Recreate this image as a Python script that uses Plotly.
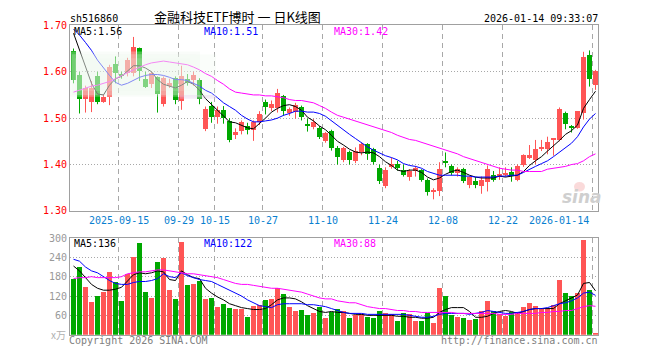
import plotly.graph_objects as go

# ---------------- data ----------------
tick_idx = [8, 18, 24, 32, 42, 52, 62, 72, 87]
tick_txt = ["2025-09-15", "09-29", "10-15", "10-27", "11-10", "11-24", "12-08", "12-22", "2026-01-14"]

open_ = [1.645, 1.592, 1.540, 1.535, 1.590, 1.535, 1.545, 1.617, 1.593, 1.597,
         1.596, 1.650, 1.583, 1.572, 1.587, 1.530, 1.569, 1.585, 1.537, 1.583,
         1.582, 1.582, 1.475, 1.525, 1.502, 1.516, 1.493, 1.464, 1.472, 1.483,
         1.474, 1.492, 1.535, 1.522, 1.522, 1.547, 1.511, 1.512, 1.523, 1.486,
         1.481, 1.479, 1.451, 1.471, 1.436, 1.410, 1.426, 1.407, 1.426, 1.443,
         1.433, 1.391, 1.353, 1.394, 1.400, 1.387, 1.372, 1.386, 1.387, 1.367,
         1.342, 1.342, 1.406, 1.396, 1.382, 1.389, 1.356, 1.363, 1.353, 1.362,
         1.377, 1.374, 1.378, 1.384, 1.367, 1.398, 1.413, 1.410, 1.434, 1.433,
         1.454, 1.453, 1.511, 1.481, 1.479, 1.510, 1.636, 1.571]
high = [1.650, 1.600, 1.570, 1.580, 1.600, 1.550, 1.615, 1.633, 1.600, 1.630,
        1.675, 1.652, 1.600, 1.600, 1.590, 1.590, 1.585, 1.590, 1.613, 1.595,
        1.600, 1.586, 1.525, 1.535, 1.525, 1.526, 1.500, 1.478, 1.495, 1.490,
        1.495, 1.515, 1.540, 1.538, 1.563, 1.550, 1.523, 1.533, 1.527, 1.499,
        1.498, 1.483, 1.470, 1.475, 1.440, 1.438, 1.430, 1.437, 1.447, 1.446,
        1.436, 1.400, 1.394, 1.415, 1.408, 1.400, 1.390, 1.397, 1.390, 1.370,
        1.349, 1.405, 1.426, 1.400, 1.394, 1.393, 1.375, 1.373, 1.374, 1.398,
        1.386, 1.394, 1.394, 1.394, 1.400, 1.422, 1.442, 1.453, 1.453, 1.460,
        1.457, 1.523, 1.514, 1.485, 1.515, 1.643, 1.646, 1.604]
low = [1.575, 1.510, 1.512, 1.513, 1.530, 1.533, 1.528, 1.575, 1.585, 1.590,
       1.590, 1.580, 1.565, 1.565, 1.512, 1.525, 1.565, 1.530, 1.518, 1.570,
       1.570, 1.530, 1.472, 1.490, 1.488, 1.488, 1.448, 1.455, 1.465, 1.465,
       1.451, 1.485, 1.508, 1.515, 1.512, 1.505, 1.505, 1.499, 1.495, 1.471,
       1.476, 1.455, 1.447, 1.430, 1.400, 1.405, 1.400, 1.403, 1.420, 1.410,
       1.400, 1.358, 1.349, 1.391, 1.387, 1.374, 1.365, 1.374, 1.363, 1.333,
       1.325, 1.332, 1.394, 1.377, 1.374, 1.360, 1.349, 1.349, 1.337, 1.342,
       1.363, 1.367, 1.374, 1.363, 1.364, 1.395, 1.412, 1.401, 1.429, 1.422,
       1.419, 1.450, 1.476, 1.469, 1.477, 1.497, 1.568, 1.561]
close = [1.582, 1.540, 1.565, 1.565, 1.535, 1.545, 1.610, 1.597, 1.592, 1.625,
         1.653, 1.600, 1.567, 1.596, 1.551, 1.585, 1.575, 1.539, 1.591, 1.575,
         1.592, 1.540, 1.520, 1.502, 1.517, 1.499, 1.453, 1.469, 1.490, 1.474,
         1.490, 1.509, 1.523, 1.529, 1.554, 1.514, 1.519, 1.528, 1.502, 1.484,
         1.490, 1.458, 1.467, 1.436, 1.415, 1.436, 1.408, 1.428, 1.443, 1.422,
         1.405, 1.363, 1.387, 1.401, 1.391, 1.377, 1.385, 1.392, 1.367, 1.340,
         1.344, 1.389, 1.404, 1.382, 1.389, 1.363, 1.372, 1.356, 1.367, 1.389,
         1.367, 1.379, 1.381, 1.374, 1.396, 1.419, 1.419, 1.433, 1.438, 1.447,
         1.456, 1.519, 1.486, 1.479, 1.514, 1.631, 1.583, 1.601]

ma5 = [1.683, 1.646, 1.613, 1.575, 1.552, 1.550, 1.571, 1.585, 1.590, 1.602,
       1.613, 1.613, 1.608, 1.600, 1.583, 1.573, 1.569, 1.565, 1.571, 1.579,
       1.573, 1.560, 1.542, 1.529, 1.517, 1.504, 1.492, 1.490, 1.485, 1.479,
       1.477, 1.488, 1.500, 1.513, 1.521, 1.527, 1.529, 1.525, 1.517, 1.502,
       1.494, 1.483, 1.475, 1.463, 1.450, 1.442, 1.433, 1.427, 1.425, 1.427,
       1.425, 1.417, 1.406, 1.398, 1.388, 1.385, 1.388, 1.388, 1.383, 1.373,
       1.367, 1.371, 1.379, 1.385, 1.388, 1.383, 1.377, 1.373, 1.371, 1.371,
       1.371, 1.375, 1.373, 1.375, 1.377, 1.385, 1.398, 1.408, 1.417, 1.429,
       1.440, 1.452, 1.465, 1.473, 1.485, 1.521, 1.540, 1.558]
ma10 = [1.692, 1.679, 1.663, 1.646, 1.625, 1.608, 1.592, 1.577, 1.571, 1.575,
        1.581, 1.588, 1.592, 1.594, 1.594, 1.592, 1.588, 1.583, 1.583, 1.581,
        1.575, 1.569, 1.560, 1.554, 1.544, 1.533, 1.525, 1.517, 1.506, 1.498,
        1.492, 1.492, 1.494, 1.496, 1.500, 1.506, 1.510, 1.515, 1.515, 1.513,
        1.513, 1.510, 1.504, 1.494, 1.483, 1.473, 1.465, 1.456, 1.446, 1.438,
        1.431, 1.425, 1.419, 1.415, 1.410, 1.402, 1.398, 1.396, 1.392, 1.385,
        1.381, 1.377, 1.377, 1.377, 1.377, 1.375, 1.375, 1.373, 1.373, 1.373,
        1.373, 1.375, 1.375, 1.377, 1.377, 1.383, 1.390, 1.396, 1.402, 1.408,
        1.417, 1.427, 1.435, 1.446, 1.460, 1.481, 1.498, 1.510]
ma30 = [1.556, 1.560, 1.565, 1.569, 1.571, 1.575, 1.579, 1.585, 1.592, 1.598,
        1.604, 1.610, 1.615, 1.619, 1.621, 1.623, 1.621, 1.619, 1.617, 1.615,
        1.610, 1.604, 1.596, 1.590, 1.581, 1.573, 1.563, 1.556, 1.554, 1.552,
        1.550, 1.550, 1.548, 1.548, 1.546, 1.544, 1.540, 1.538, 1.538, 1.535,
        1.533, 1.527, 1.521, 1.513, 1.506, 1.502, 1.498, 1.494, 1.490, 1.485,
        1.481, 1.477, 1.473, 1.469, 1.463, 1.458, 1.454, 1.452, 1.448, 1.444,
        1.440, 1.435, 1.431, 1.427, 1.423, 1.417, 1.413, 1.408, 1.404, 1.400,
        1.396, 1.392, 1.390, 1.388, 1.388, 1.385, 1.385, 1.385, 1.385, 1.390,
        1.392, 1.394, 1.396, 1.400, 1.402, 1.408, 1.417, 1.423]

volume = [172, 211, 149, 100, 121, 133, 193, 163, 106, 187,
          242, 284, 133, 115, 227, 239, 139, 112, 287, 154,
          157, 166, 112, 115, 85, 94, 82, 79, 79, 54,
          88, 91, 109, 112, 145, 127, 85, 73, 76, 60,
          66, 85, 51, 70, 79, 72, 51, 60, 63, 54,
          51, 72, 66, 63, 42, 66, 63, 42, 42, 66,
          36, 145, 121, 60, 54, 51, 45, 48, 72, 106,
          72, 63, 57, 69, 69, 85, 97, 88, 79, 79,
          91, 169, 130, 121, 130, 293, 139, 6]
vma5 = [213, 198, 177, 156, 144, 138, 138, 141, 147, 165,
        186, 192, 189, 192, 198, 195, 171, 168, 198, 186,
        177, 174, 144, 129, 117, 108, 96, 90, 84, 81,
        78, 78, 81, 93, 108, 114, 114, 111, 102, 90,
        81, 72, 69, 72, 69, 69, 66, 63, 63, 60,
        60, 60, 60, 60, 57, 57, 54, 54, 51, 51,
        54, 69, 78, 84, 84, 84, 72, 54, 54, 57,
        66, 72, 75, 72, 66, 72, 78, 81, 81, 81,
        81, 96, 105, 114, 123, 159, 162, 136]
vma10 = [234, 228, 210, 198, 192, 180, 168, 159, 156, 156,
         162, 165, 165, 168, 174, 189, 180, 177, 192, 183,
         177, 171, 168, 165, 156, 147, 138, 129, 120, 108,
         99, 90, 87, 84, 93, 96, 96, 96, 96, 93,
         93, 90, 87, 81, 75, 69, 66, 66, 66, 63,
         63, 63, 63, 63, 63, 63, 60, 57, 54, 54,
         57, 63, 66, 66, 66, 66, 63, 66, 69, 75,
         72, 69, 66, 66, 69, 72, 78, 81, 81, 84,
         90, 96, 99, 105, 114, 129, 132, 122]
vma30 = [174, 177, 177, 180, 177, 177, 177, 177, 180, 189,
         192, 195, 195, 198, 201, 201, 198, 195, 192, 189,
         189, 186, 183, 180, 177, 171, 165, 159, 156, 156,
         153, 150, 147, 144, 144, 141, 138, 135, 132, 126,
         120, 114, 111, 111, 105, 102, 99, 99, 93, 87,
         84, 81, 81, 78, 75, 75, 72, 72, 69, 69,
         69, 69, 69, 69, 66, 66, 66, 66, 66, 66,
         66, 63, 63, 63, 66, 66, 66, 66, 69, 69,
         72, 72, 75, 75, 81, 87, 90, 88]

price_ticks = [1.30, 1.40, 1.50, 1.60, 1.70]
vol_ticks = [60, 120, 180, 240, 300]

# ---------------- styling ----------------
W, H = 660, 360
X0, X1 = 70, 598
P_TOP, P_BOT = 20, 212
V_TOP, V_BOT = 240, 340
RED = "#ff5555"
GREEN = "#00a800"
FRAME = "#a0a0a0"
GRID = "#a8a8a8"
MONO = "DejaVu Sans Mono"
CJK = "Noto Sans CJK SC"
FS = 10


def px(x):
    return x / W


def py(y):
    return 1 - y / H


n = len(close)
idx = list(range(n))
up = [c >= o for o, c in zip(open_, close)]
off = 1.0 / 12  # pixel-crisp offset of the axis range

fig = go.Figure()

for flag, col in ((True, RED), (False, GREEN)):
    xs = [i for i in idx if up[i] == flag]
    wx, wy = [], []
    for i in xs:
        wx += [i, i, None]
        wy += [low[i], high[i], None]
    fig.add_trace(go.Scatter(x=wx, y=wy, mode="lines", line=dict(color=col, width=1),
                             xaxis="x", yaxis="y", hoverinfo="skip"))
    fig.add_trace(go.Bar(x=xs,
                         y=[max(abs(close[i] - open_[i]), 0.0022) for i in xs],
                         base=[min(open_[i], close[i]) for i in xs],
                         width=5 / 6, marker=dict(color=col, line=dict(width=0)),
                         xaxis="x", yaxis="y", hoverinfo="skip"))
    fig.add_trace(go.Bar(x=xs, y=[volume[i] for i in xs], width=5 / 6,
                         marker=dict(color=col, line=dict(width=0)),
                         xaxis="x2", yaxis="y2", hoverinfo="skip"))

for series, col in ((ma5, "#000000"), (ma10, "#0000ff"), (ma30, "#ff00ff")):
    fig.add_trace(go.Scatter(x=idx, y=series, mode="lines", line=dict(color=col, width=1),
                             xaxis="x", yaxis="y", hoverinfo="skip"))
for series, col in ((vma5, "#000000"), (vma10, "#0000ff"), (vma30, "#ff00ff")):
    fig.add_trace(go.Scatter(x=idx, y=series, mode="lines", line=dict(color=col, width=1),
                             xaxis="x2", yaxis="y2", hoverinfo="skip"))

grid_x = [i - 0.5 for i in tick_idx]
xcommon = dict(range=[-0.5 - off, n - 0.5 - off], domain=[px(X0), px(X1)],
               tickvals=grid_x, showticklabels=False, ticks="",
               showgrid=True, gridcolor=GRID, griddash="5px,4px", gridwidth=1,
               showline=True, mirror=True, linecolor=FRAME, linewidth=1,
               zeroline=False, fixedrange=True)

fig.update_layout(
    width=W, height=H, margin=dict(l=0, r=0, t=0, b=0),
    paper_bgcolor="white", plot_bgcolor="white", showlegend=False,
    barmode="overlay", bargap=0,
    xaxis=dict(anchor="y", **xcommon),
    xaxis2=dict(anchor="y2", **xcommon),
    yaxis=dict(domain=[py(P_BOT), py(P_TOP)], range=[1.30, 1.70],
               tickvals=price_ticks, ticktext=["%.2f" % v for v in price_ticks],
               tickfont=dict(family=MONO, size=FS, color="#ff0000"), ticks="",
               showgrid=True, gridcolor=GRID, griddash="1px,2px",
               showline=True, mirror=True, linecolor=FRAME, linewidth=1,
               zeroline=False, fixedrange=True),
    yaxis2=dict(domain=[py(V_BOT), py(V_TOP)], range=[0, 300],
                tickvals=vol_ticks, ticktext=[str(v) for v in vol_ticks],
                tickfont=dict(family=MONO, size=FS, color="#999999"), ticks="",
                showgrid=True, gridcolor=GRID, griddash="1px,2px",
                showline=True, mirror=True, linecolor=FRAME, linewidth=1,
                zeroline=False, fixedrange=True),
)

# x tick labels
for k, (i, t) in enumerate(zip(tick_idx, tick_txt)):
    last = k == len(tick_idx) - 1
    fig.add_annotation(x=591 / W if last else i - 0.5,
                       xref="paper" if last else "x", yref="paper", y=py(222),
                       text=t, showarrow=False, xanchor="right" if last else "center",
                       yanchor="middle", font=dict(family=MONO, size=FS, color="#0a7fd0"))

# ghost overlay (faded area top-left), built from a few soft layers
for (x0, x1, y0, y1, a) in ((70, 200, 47, 94, 0.30), (72, 196, 50, 92, 0.25),
                            (75, 190, 54, 88, 0.15), (196, 216, 50, 94, 0.25)):
    fig.add_shape(type="rect", xref="paper", yref="paper", x0=px(x0), x1=px(x1), y0=py(y1), y1=py(y0),
                  fillcolor="rgba(236,246,236,%.2f)" % a, line=dict(width=0), layer="above")
fig.add_shape(type="rect", xref="paper", yref="paper", x0=px(180), x1=px(216), y0=py(96), y1=py(92),
              fillcolor="rgba(226,200,236,0.35)", line=dict(width=0), layer="above")

# sina watermark
fig.add_shape(type="circle", xref="paper", yref="paper", x0=px(574), x1=px(585), y0=py(192), y1=py(182),
              fillcolor="rgba(240,150,150,0.35)", line=dict(width=0))
fig.add_annotation(x=px(582), y=py(198), xref="paper", yref="paper", text="sina", showarrow=False,
                   xanchor="center", yanchor="middle",
                   font=dict(family="DejaVu Sans", size=17, color="#cfcfcf", style="italic", weight="bold"))


def label(x, y, text, color, anchor="left", size=FS, family=MONO):
    fig.add_annotation(x=px(x), y=py(y), xref="paper", yref="paper", text=text, showarrow=False,
                       xanchor=anchor, yanchor="middle", borderpad=0,
                       font=dict(family=family, size=size, color=color))


label(69, 13, "sh516860", "#000000")
label(237, 11, "金融科技ETF博时 一 日K线图", "#000000", anchor="center", size=13, family=CJK)
label(599, 13, "2026-01-14 09:33:07", "#000000", anchor="right")

label(73, 26.5, "MA5:%.2f" % ma5[-1], "#000000")
label(203, 26.5, "MA10:%.2f" % ma10[-1], "#0000ff")
label(333, 26.5, "MA30:%.2f" % ma30[-1], "#ff00ff")
label(73, 246, "MA5:%d" % vma5[-1], "#000000")
label(203, 246, "MA10:%d" % vma10[-1], "#0000ff")
label(333, 246, "MA30:%d" % vma30[-1], "#ff00ff")

label(67, 340, "x万", "#b0b0b0", anchor="right", size=10, family=CJK)
label(68, 346, "Copyright 2026 SINA.COM", "#808080")
label(599, 346, "http://finance.sina.com.cn", "#808080", anchor="right")

fig.write_html("out.html", config={"displayModeBar": False},
               post_script="document.body.style.margin='0';document.body.style.padding='0';"
                           "document.body.style.overflow='hidden';")
